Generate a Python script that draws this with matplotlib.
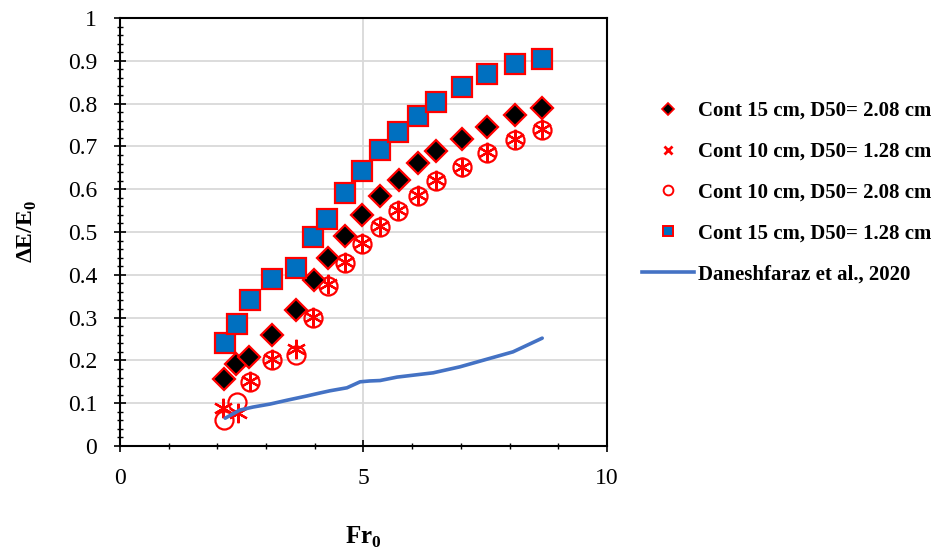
import matplotlib.pyplot as plt
from matplotlib.lines import Line2D
from matplotlib.ticker import MultipleLocator

# Cont 15 cm, D50 = 1.28 cm (blue squares)
fr_sq = [2.16, 2.40, 2.67, 3.12, 3.61, 3.96, 4.25, 4.62, 4.97, 5.34, 5.71, 6.12, 6.49, 7.02, 7.54, 8.11, 8.67]
de_sq = [0.241, 0.285, 0.341, 0.390, 0.416, 0.488, 0.530, 0.591, 0.643, 0.692, 0.734, 0.771, 0.804, 0.839, 0.869, 0.893, 0.904]

# Cont 15 cm, D50 = 2.08 cm (black diamonds)
fr_di = [2.14, 2.38, 2.65, 3.12, 3.61, 3.98, 4.27, 4.62, 4.97, 5.34, 5.73, 6.12, 6.49, 7.02, 7.54, 8.11, 8.67]
de_di = [0.157, 0.192, 0.208, 0.259, 0.318, 0.388, 0.439, 0.491, 0.540, 0.584, 0.621, 0.661, 0.689, 0.717, 0.745, 0.773, 0.790]

# Cont 10 cm, D50 = 2.08 cm (open circles)
fr_ci = [2.14, 2.40, 2.67, 3.12, 3.61, 3.96, 4.27, 4.62, 4.97, 5.34, 5.71, 6.12, 6.49, 7.02, 7.54, 8.11, 8.67]
de_ci = [0.061, 0.103, 0.150, 0.201, 0.212, 0.299, 0.374, 0.428, 0.472, 0.511, 0.550, 0.585, 0.619, 0.651, 0.684, 0.716, 0.738]

# Cont 10 cm, D50 = 1.28 cm (stars)
fr_st = [2.12, 2.42, 2.67, 3.12, 3.61, 3.96, 4.27, 4.62, 4.97, 5.34, 5.71, 6.12, 6.49, 7.02, 7.54, 8.11, 8.67]
de_st = [0.089, 0.077, 0.152, 0.203, 0.226, 0.302, 0.378, 0.430, 0.474, 0.513, 0.552, 0.587, 0.621, 0.653, 0.686, 0.718, 0.740]

# Daneshfaraz et al., 2020
fr_dn = [2.16, 2.46, 2.73, 3.08, 3.43, 3.84, 4.11, 4.31, 4.66, 4.93, 5.13, 5.34, 5.69, 6.43, 6.98, 7.54, 8.07, 8.67]
de_dn = [0.065, 0.084, 0.091, 0.098, 0.107, 0.117, 0.124, 0.129, 0.136, 0.150, 0.152, 0.153, 0.161, 0.171, 0.185, 0.203, 0.220, 0.252]

RED = "#FF0000"
BLUE = "#0070C0"
LINE = "#4472C4"

plt.rcParams["font.family"] = ["Liberation Serif", "DejaVu Serif"]
plt.rcParams["mathtext.fontset"] = "custom"
plt.rcParams["mathtext.rm"] = "Liberation Serif"
plt.rcParams["mathtext.bf"] = "Liberation Serif:bold"

fig = plt.figure(figsize=(9.4, 5.49), dpi=100)
ax = fig.add_axes([0.1277, 0.1876, 0.518, 0.7796])

ax.plot(fr_ci, de_ci, ls="none", marker="o", ms=13, mfc="none", mec=RED, mew=1.6, zorder=3)
ax.plot(fr_st, de_st, ls="none", marker=(6, 2, 0), ms=14, mec=RED, mew=1.6, zorder=3)
ax.plot(fr_di, de_di, ls="none", marker="D", ms=11, mfc="black", mec=RED, mew=1.6, zorder=4)
ax.plot(fr_sq, de_sq, ls="none", marker="s", ms=14, mfc=BLUE, mec=RED, mew=1.6, zorder=5)
ax.plot(fr_dn, de_dn, color=LINE, lw=2.6, solid_capstyle="round", zorder=6)

ax.set_xlim(0, 10)
ax.set_ylim(0, 1)
ax.xaxis.set_major_locator(MultipleLocator(5))
ax.xaxis.set_minor_locator(MultipleLocator(1))
ax.yaxis.set_minor_locator(MultipleLocator(0.02))
ax.set_yticks([i / 10 for i in range(11)])
ax.set_yticklabels(["0"] + [f"0.{i}" for i in range(1, 10)] + ["1"])

ax.grid(True, which="major", color="#d9d9d9", lw=1.3, zorder=0)
ax.set_axisbelow(True)
for s in ax.spines.values():
    s.set_linewidth(1.5)
    s.set_color("black")
ax.tick_params(which="major", direction="inout", length=9, width=1.2, labelsize=17)
ax.tick_params(which="minor", direction="inout", length=5, width=1.0)
ax.tick_params(axis="x", which="major", pad=11)
ax.tick_params(axis="y", which="major", pad=12)

ax.set_xlabel(r"Fr$_\mathbf{0}$", fontsize=18, fontweight="bold", labelpad=26)
ax.set_ylabel(r"ΔE/E$_\mathbf{0}$", fontsize=17, fontweight="bold", labelpad=21)

handles = [
    Line2D([], [], ls="none", marker="D", ms=6, mfc="black", mec=RED, mew=1.2),
    Line2D([], [], ls="none", marker="x", ms=6, mec=RED, mew=2),
    Line2D([], [], ls="none", marker="o", ms=7, mfc="none", mec=RED, mew=1.4),
    Line2D([], [], ls="none", marker="s", ms=7, mfc=BLUE, mec=RED, mew=1.4),
    Line2D([], [], color=LINE, lw=2.6),
]
labels = [
    "Cont 15 cm, D50= 2.08 cm",
    "Cont 10 cm, D50= 1.28 cm",
    "Cont 10 cm, D50= 2.08 cm",
    "Cont 15 cm, D50= 1.28 cm",
    "Daneshfaraz et al., 2020",
]
fig.legend(handles, labels, loc="upper left", bbox_to_anchor=(0.6715, 0.835),
           frameon=False, prop={"weight": "bold", "size": 15},
           handlelength=2.5, handletextpad=0.2, labelspacing=1.0, borderpad=0)

fig.savefig("out.png", dpi=100)
